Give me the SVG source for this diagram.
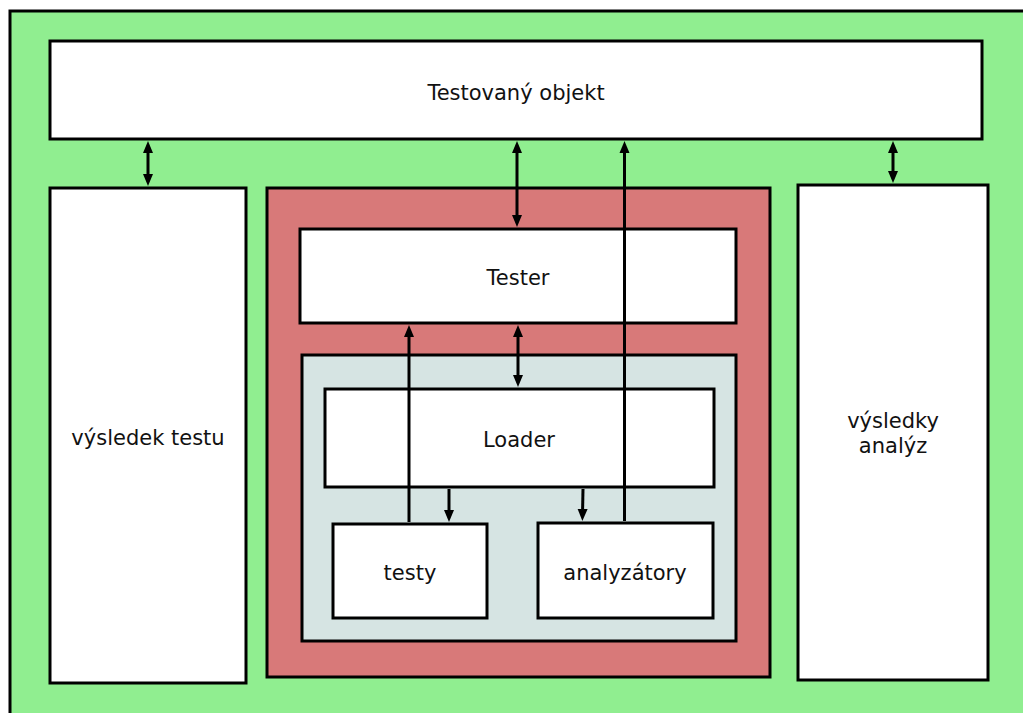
<svg xmlns="http://www.w3.org/2000/svg" width="1023" height="713" viewBox="0 0 1023 713">
<style>
  .box { fill: #ffffff; stroke: #000000; stroke-width: 3; }
  .lbl { font-family: "DejaVu Sans", Verdana, sans-serif; font-size: 21px; fill: #111111; text-anchor: middle; }
  .conn { stroke: #000000; stroke-width: 3; fill: none; }
  .a2 { marker-start: url(#ah); marker-end: url(#ah); }
  .a1 { marker-end: url(#ah); }
</style>
<defs>
  <marker id="ah" markerUnits="userSpaceOnUse" markerWidth="13" markerHeight="11" refX="6" refY="5" orient="auto-start-reverse" viewBox="0 0 13 10">
    <path d="M0,0 L12,5 L0,10 z" fill="#000000"/>
  </marker>
</defs>
<rect x="0" y="0" width="1023" height="713" fill="#ffffff"/>
<g id="outer">
  <rect x="10" y="11" width="1040" height="740" fill="#90ee90" stroke="#000000" stroke-width="3"/>
</g>
<g id="testovany-objekt">
  <rect class="box" x="50" y="41" width="932" height="98"/>
  <text class="lbl" x="516" y="100">Testovaný objekt</text>
</g>
<g id="vysledek-testu">
  <rect class="box" x="50" y="188" width="196" height="495"/>
  <text class="lbl" x="148" y="445">výsledek testu</text>
</g>
<g id="vysledky-analyz">
  <rect class="box" x="798" y="185" width="190" height="495"/>
  <text class="lbl" x="893" y="428">výsledky</text>
  <text class="lbl" x="893" y="453">analýz</text>
</g>
<g id="tester-container">
  <rect x="267" y="188" width="503" height="489" fill="#d87979" stroke="#000000" stroke-width="3"/>
</g>
<g id="tester">
  <rect class="box" x="300" y="229" width="436" height="94"/>
  <text class="lbl" x="518" y="285">Tester</text>
</g>
<g id="loader-container">
  <rect x="302" y="355" width="434" height="286" fill="#d6e4e3" stroke="#000000" stroke-width="3"/>
</g>
<g id="loader">
  <rect class="box" x="325" y="389" width="389" height="98"/>
  <text class="lbl" x="519" y="447">Loader</text>
</g>
<g id="testy">
  <rect class="box" x="333" y="524" width="154" height="94"/>
  <text class="lbl" x="410" y="580">testy</text>
</g>
<g id="analyzatory">
  <rect class="box" x="538" y="523" width="175" height="95"/>
  <text class="lbl" x="625" y="580">analyzátory</text>
</g>
<g id="connectors">
  <line class="conn a2" x1="148" y1="147" x2="148" y2="180"/>
  <line class="conn a2" x1="517" y1="147" x2="517" y2="221"/>
  <line class="conn a2" x1="893" y1="147" x2="893" y2="177"/>
  <line class="conn a2" x1="518" y1="331" x2="518" y2="381"/>
  <line class="conn a1" x1="409" y1="522" x2="409" y2="331"/>
  <line class="conn a1" x1="624.5" y1="521" x2="624.5" y2="147"/>
  <line class="conn a1" x1="449" y1="489" x2="449" y2="516"/>
  <line class="conn a1" x1="583" y1="489" x2="582.5" y2="515"/>
</g>
</svg>
